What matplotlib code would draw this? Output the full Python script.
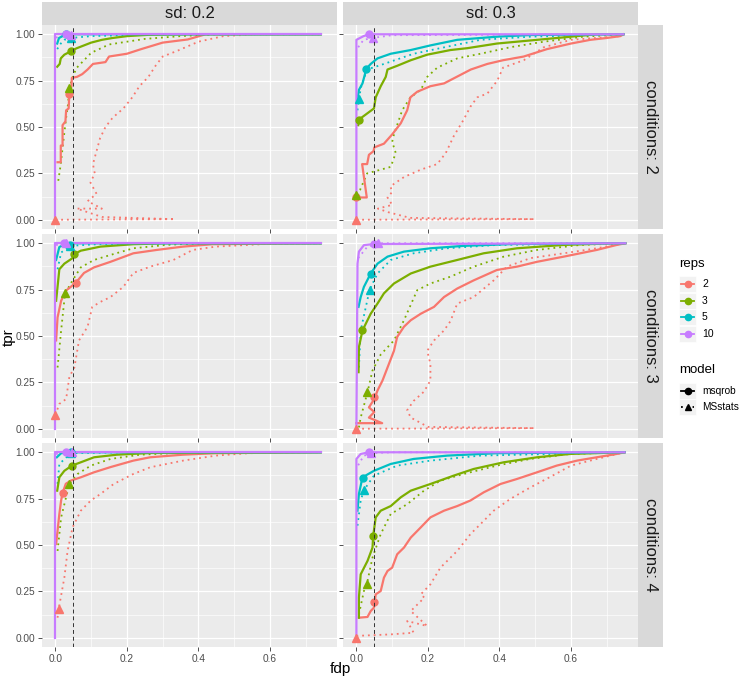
import matplotlib.pyplot as plt
from matplotlib.patches import Rectangle
from matplotlib.lines import Line2D

plt.rcParams['font.family'] = ['Liberation Sans', 'DejaVu Sans']

reps = ['2', '3', '5', '10']
rep_colors = ['#F8766D', '#7CAE00', '#00BFC4', '#C77CFF']
models = ['msqrob', 'MSstats']
sd_labels = ['sd: 0.2', 'sd: 0.3']
cond_labels = ['conditions: 2', 'conditions: 3', 'conditions: 4']
fdr_cut = 0.05

x_ticks = [0.0, 0.2, 0.4, 0.6]
x_tick_labels = ['0.0', '0.2', '0.4', '0.6']
y_ticks = [0.0, 0.25, 0.5, 0.75, 1.0]
y_tick_labels = ['0.00', '0.25', '0.50', '0.75', '1.00']

# ---- conditions 2, sd 0.2 : (fdp, tpr) ----
c2_s2_r2_mq = [(0.006, 0.31), (0.015, 0.31), (0.015, 0.40), (0.02, 0.40), (0.02, 0.51), (0.028, 0.53),
               (0.03, 0.59), (0.037, 0.60), (0.039, 0.68), (0.045, 0.72), (0.046, 0.765), (0.06, 0.77),
               (0.075, 0.785), (0.09, 0.81), (0.105, 0.84), (0.14, 0.85), (0.15, 0.88), (0.2, 0.895),
               (0.24, 0.92), (0.3, 0.955), (0.37, 0.972), (0.42, 1.0), (0.742, 1.0)]
c2_s2_r2_ms = [(0.0, 0.0), (0.334, 0.003), (0.13, 0.015), (0.06, 0.06), (0.13, 0.06), (0.09, 0.10),
               (0.115, 0.14), (0.098, 0.2), (0.11, 0.25), (0.105, 0.3), (0.115, 0.37), (0.125, 0.44),
               (0.14, 0.5), (0.16, 0.55), (0.19, 0.6), (0.215, 0.66), (0.235, 0.72), (0.26, 0.77),
               (0.28, 0.83), (0.3, 0.88), (0.34, 0.91), (0.4, 0.96), (0.47, 0.99), (0.56, 1.0), (0.742, 1.0)]
c2_s2_r3_mq = [(0.005, 0.825), (0.012, 0.84), (0.015, 0.87), (0.025, 0.89), (0.035, 0.9), (0.043, 0.91),
               (0.06, 0.925), (0.08, 0.94), (0.1, 0.955), (0.13, 0.97), (0.16, 0.98), (0.2, 0.99),
               (0.26, 0.997), (0.4, 1.0), (0.742, 1.0)]
c2_s2_r3_ms = [(0.008, 0.21), (0.015, 0.3), (0.022, 0.42), (0.03, 0.55), (0.035, 0.62), (0.039, 0.71),
               (0.05, 0.78), (0.06, 0.82), (0.075, 0.85), (0.1, 0.9), (0.15, 0.945), (0.2, 0.96),
               (0.25, 0.975), (0.35, 0.99), (0.45, 1.0), (0.742, 1.0)]
c2_s2_r5_mq = [(0.005, 0.95), (0.01, 0.98), (0.02, 0.99), (0.03, 1.0), (0.742, 1.0)]
c2_s2_r5_ms = [(0.005, 0.92), (0.015, 0.95), (0.025, 0.97), (0.043, 0.98), (0.1, 0.99), (0.2, 0.995),
               (0.3, 1.0), (0.742, 1.0)]
c2_s2_r10_mq = [(0.0, 0.0), (0.0, 1.0), (0.742, 1.0)]
c2_s2_r10_ms = [(0.002, 0.98), (0.01, 0.995), (0.03, 1.0), (0.742, 1.0)]
c2_s2_pts_mq = [(0.039, 0.68), (0.043, 0.91), (0.03, 1.0), (0.03, 1.0)]
c2_s2_pts_ms = [(0.0, 0.0), (0.039, 0.71), (0.043, 0.98), (0.043, 0.998)]

# ---- conditions 2, sd 0.3 ----
c2_s3_r2_mq = [(0.0, 0.12), (0.029, 0.12), (0.016, 0.3), (0.03, 0.3), (0.035, 0.35), (0.048, 0.37),
               (0.05, 0.39), (0.077, 0.41), (0.1, 0.46), (0.124, 0.52), (0.142, 0.59), (0.151, 0.66),
               (0.17, 0.69), (0.207, 0.72), (0.245, 0.735), (0.28, 0.77), (0.32, 0.81), (0.366, 0.84),
               (0.41, 0.86), (0.468, 0.88), (0.533, 0.92), (0.6, 0.95), (0.654, 0.97), (0.7, 0.98),
               (0.738, 0.99), (0.747, 1.0)]
c2_s3_r2_ms = [(0.0, 0.0), (0.498, 0.003), (0.15, 0.01), (0.09, 0.04), (0.06, 0.06), (0.1, 0.08),
               (0.087, 0.12), (0.1, 0.15), (0.095, 0.18), (0.133, 0.23), (0.18, 0.27), (0.226, 0.30),
               (0.25, 0.36), (0.272, 0.45), (0.30, 0.54), (0.319, 0.61), (0.338, 0.66), (0.366, 0.68),
               (0.394, 0.75), (0.41, 0.82), (0.468, 0.86), (0.524, 0.93), (0.6, 0.97), (0.738, 0.99),
               (0.747, 1.0)]
c2_s3_r3_mq = [(0.005, 0.51), (0.007, 0.54), (0.021, 0.56), (0.049, 0.6), (0.054, 0.66), (0.068, 0.72),
               (0.082, 0.77), (0.087, 0.81), (0.114, 0.83), (0.152, 0.86), (0.198, 0.89), (0.263, 0.915),
               (0.31, 0.925), (0.393, 0.95), (0.505, 0.97), (0.6, 0.987), (0.672, 1.0), (0.747, 1.0)]
c2_s3_r3_ms = [(0.0, 0.135), (0.01, 0.16), (0.03, 0.25), (0.068, 0.27), (0.096, 0.285), (0.11, 0.36),
               (0.1, 0.42), (0.105, 0.46), (0.128, 0.59), (0.151, 0.66), (0.18, 0.70), (0.198, 0.77),
               (0.226, 0.82), (0.282, 0.87), (0.347, 0.895), (0.43, 0.93), (0.524, 0.96), (0.635, 0.987),
               (0.747, 1.0)]
c2_s3_r5_mq = [(0.003, 0.645), (0.007, 0.70), (0.017, 0.735), (0.028, 0.815), (0.04, 0.84), (0.059, 0.87),
               (0.096, 0.895), (0.152, 0.915), (0.207, 0.94), (0.282, 0.97), (0.393, 0.987), (0.487, 0.996),
               (0.747, 1.0)]
c2_s3_r5_ms = [(0.003, 0.59), (0.012, 0.71), (0.03, 0.81), (0.077, 0.84), (0.16, 0.895), (0.254, 0.933),
               (0.347, 0.97), (0.487, 0.987), (0.747, 1.0)]
c2_s3_r10_mq = [(0.0, 0.0), (0.0, 0.97), (0.02, 0.99), (0.035, 1.0), (0.747, 1.0)]
c2_s3_r10_ms = [(0.005, 0.93), (0.02, 0.97), (0.045, 0.98), (0.1, 0.995), (0.747, 1.0)]
c2_s3_pts_mq = [(0.0, 0.12), (0.007, 0.54), (0.028, 0.815), (0.035, 1.0)]
c2_s3_pts_ms = [(0.0, 0.0), (0.0, 0.135), (0.006, 0.65), (0.045, 0.98)]

# ---- conditions 3, sd 0.2 ----
c3_s2_r2_mq = [(0.002, 0.476), (0.006, 0.6), (0.016, 0.69), (0.03, 0.745), (0.057, 0.787), (0.08, 0.84),
               (0.108, 0.87), (0.154, 0.90), (0.218, 0.946), (0.283, 0.964), (0.357, 0.982), (0.44, 0.995),
               (0.742, 1.0)]
c3_s2_r2_ms = [(0.0, 0.074), (0.011, 0.134), (0.03, 0.16), (0.039, 0.28), (0.053, 0.33), (0.066, 0.476),
               (0.09, 0.55), (0.103, 0.657), (0.126, 0.684), (0.154, 0.71), (0.19, 0.765), (0.218, 0.84),
               (0.265, 0.874), (0.33, 0.91), (0.384, 0.964), (0.449, 0.982), (0.587, 0.996), (0.742, 1.0)]
c3_s2_r3_mq = [(0.002, 0.69), (0.011, 0.86), (0.025, 0.89), (0.048, 0.92), (0.051, 0.94), (0.071, 0.96),
               (0.126, 0.982), (0.218, 0.995), (0.31, 1.0), (0.742, 1.0)]
c3_s2_r3_ms = [(0.006, 0.33), (0.016, 0.53), (0.027, 0.73), (0.048, 0.80), (0.071, 0.87), (0.108, 0.91),
               (0.154, 0.937), (0.218, 0.973), (0.31, 0.991), (0.4, 1.0), (0.742, 1.0)]
c3_s2_r5_mq = [(0.002, 0.91), (0.011, 0.98), (0.034, 1.0), (0.742, 1.0)]
c3_s2_r5_ms = [(0.006, 0.86), (0.016, 0.95), (0.041, 0.986), (0.126, 0.996), (0.742, 1.0)]
c3_s2_r10_mq = [(0.0, 0.0), (0.0, 1.0), (0.742, 1.0)]
c3_s2_r10_ms = [(0.002, 0.99), (0.02, 1.0), (0.742, 1.0)]
c3_s2_pts_mq = [(0.057, 0.787), (0.051, 0.94), (0.041, 0.99), (0.025, 1.0)]
c3_s2_pts_ms = [(0.0, 0.074), (0.027, 0.73), (0.041, 0.986), (0.03, 1.0)]

# ---- conditions 3, sd 0.3 ----
c3_s3_r2_mq = [(0.0, 0.03), (0.072, 0.03), (0.035, 0.06), (0.05, 0.09), (0.035, 0.115), (0.05, 0.16),
               (0.059, 0.206), (0.073, 0.26), (0.091, 0.35), (0.105, 0.42), (0.114, 0.495), (0.133, 0.55),
               (0.152, 0.585), (0.18, 0.62), (0.217, 0.657), (0.245, 0.71), (0.282, 0.756), (0.328, 0.80),
               (0.393, 0.856), (0.449, 0.874), (0.505, 0.90), (0.58, 0.928), (0.672, 0.964), (0.728, 0.991),
               (0.752, 1.0)]
c3_s3_r2_ms = [(0.0, 0.0), (0.498, 0.003), (0.2, 0.01), (0.152, 0.06), (0.142, 0.1), (0.16, 0.15),
               (0.189, 0.2), (0.207, 0.26), (0.207, 0.35), (0.198, 0.42), (0.217, 0.476), (0.245, 0.53),
               (0.263, 0.58), (0.282, 0.675), (0.328, 0.71), (0.384, 0.80), (0.421, 0.874), (0.487, 0.92),
               (0.58, 0.946), (0.672, 0.973), (0.738, 0.996), (0.752, 1.0)]
c3_s3_r3_mq = [(0.006, 0.305), (0.007, 0.44), (0.017, 0.53), (0.031, 0.585), (0.04, 0.62), (0.059, 0.675),
               (0.077, 0.73), (0.105, 0.783), (0.152, 0.837), (0.207, 0.874), (0.282, 0.91), (0.356, 0.946),
               (0.449, 0.973), (0.58, 0.991), (0.72, 1.0), (0.752, 1.0)]
c3_s3_r3_ms = [(0.007, 0.007), (0.012, 0.06), (0.031, 0.197), (0.045, 0.314), (0.068, 0.40), (0.105, 0.476),
               (0.133, 0.585), (0.17, 0.747), (0.207, 0.783), (0.263, 0.82), (0.328, 0.874), (0.412, 0.928),
               (0.505, 0.964), (0.626, 0.991), (0.752, 1.0)]
c3_s3_r5_mq = [(0.006, 0.657), (0.012, 0.71), (0.021, 0.765), (0.04, 0.837), (0.059, 0.89), (0.087, 0.928),
               (0.133, 0.955), (0.207, 0.973), (0.30, 0.986), (0.44, 0.996), (0.752, 1.0)]
c3_s3_r5_ms = [(0.007, 0.33), (0.012, 0.53), (0.037, 0.75), (0.059, 0.837), (0.096, 0.91), (0.16, 0.946),
               (0.254, 0.973), (0.393, 0.991), (0.752, 1.0)]
c3_s3_r10_mq = [(0.0, 0.0), (0.003, 0.89), (0.007, 0.955), (0.021, 0.99), (0.049, 0.996), (0.752, 1.0)]
c3_s3_r10_ms = [(0.005, 0.92), (0.03, 0.98), (0.061, 1.0), (0.752, 1.0)]
c3_s3_pts_mq = [(0.05, 0.17), (0.017, 0.53), (0.04, 0.837), (0.049, 0.996)]
c3_s3_pts_ms = [(0.0, 0.0), (0.031, 0.197), (0.037, 0.75), (0.061, 1.0)]

# ---- conditions 4, sd 0.2 ----
c4_s2_r2_mq = [(0.002, 0.505), (0.006, 0.577), (0.011, 0.667), (0.016, 0.74), (0.02, 0.78), (0.029, 0.83),
               (0.043, 0.847), (0.071, 0.865), (0.108, 0.892), (0.154, 0.92), (0.218, 0.955), (0.265, 0.973),
               (0.357, 0.987), (0.449, 0.995), (0.742, 1.0)]
c4_s2_r2_ms = [(0.006, 0.108), (0.009, 0.153), (0.025, 0.324), (0.034, 0.468), (0.048, 0.595), (0.071, 0.685),
               (0.099, 0.74), (0.126, 0.775), (0.163, 0.829), (0.218, 0.883), (0.265, 0.919), (0.357, 0.955),
               (0.449, 0.982), (0.54, 0.995), (0.742, 1.0)]
c4_s2_r3_mq = [(0.005, 0.793), (0.011, 0.865), (0.025, 0.9), (0.046, 0.928), (0.071, 0.946), (0.108, 0.973),
               (0.172, 0.987), (0.265, 0.996), (0.742, 1.0)]
c4_s2_r3_ms = [(0.006, 0.468), (0.016, 0.649), (0.039, 0.829), (0.062, 0.883), (0.099, 0.928), (0.154, 0.964),
               (0.237, 0.987), (0.357, 0.998), (0.742, 1.0)]
c4_s2_r5_mq = [(0.004, 0.973), (0.016, 0.995), (0.043, 1.0), (0.742, 1.0)]
c4_s2_r5_ms = [(0.006, 0.83), (0.011, 0.937), (0.043, 0.995), (0.2, 1.0), (0.742, 1.0)]
c4_s2_r10_mq = [(0.0, 0.0), (0.0, 1.0), (0.742, 1.0)]
c4_s2_r10_ms = [(0.002, 0.99), (0.02, 1.0), (0.742, 1.0)]
c4_s2_pts_mq = [(0.02, 0.78), (0.046, 0.928), (0.043, 1.0), (0.03, 1.0)]
c4_s2_pts_ms = [(0.009, 0.153), (0.039, 0.829), (0.043, 0.995), (0.045, 1.0)]

# ---- conditions 4, sd 0.3 ----
c4_s3_r2_mq = [(0.007, 0.108), (0.031, 0.112), (0.04, 0.144), (0.049, 0.162), (0.054, 0.234), (0.068, 0.252),
               (0.077, 0.324), (0.087, 0.36), (0.1, 0.378), (0.114, 0.45), (0.133, 0.486), (0.152, 0.54),
               (0.18, 0.595), (0.207, 0.649), (0.245, 0.685), (0.282, 0.71), (0.319, 0.74), (0.356, 0.784),
               (0.403, 0.829), (0.449, 0.856), (0.505, 0.892), (0.56, 0.928), (0.617, 0.955), (0.672, 0.973),
               (0.728, 0.991), (0.75, 1.0)]
c4_s3_r2_ms = [(0.0, 0.01), (0.096, 0.018), (0.16, 0.027), (0.142, 0.09), (0.198, 0.063), (0.152, 0.144),
               (0.19, 0.216), (0.18, 0.234), (0.207, 0.288), (0.235, 0.378), (0.282, 0.468), (0.319, 0.559),
               (0.356, 0.63), (0.384, 0.685), (0.43, 0.748), (0.486, 0.81), (0.54, 0.865), (0.6, 0.928),
               (0.672, 0.964), (0.75, 1.0)]
c4_s3_r3_mq = [(0.007, 0.108), (0.007, 0.216), (0.012, 0.342), (0.031, 0.414), (0.045, 0.486), (0.047, 0.55),
               (0.054, 0.649), (0.068, 0.685), (0.096, 0.71), (0.124, 0.757), (0.152, 0.793), (0.207, 0.829),
               (0.272, 0.874), (0.328, 0.91), (0.412, 0.946), (0.505, 0.973), (0.598, 0.991), (0.75, 1.0)]
c4_s3_r3_ms = [(0.007, 0.126), (0.021, 0.252), (0.029, 0.288), (0.045, 0.432), (0.068, 0.559), (0.096, 0.667),
               (0.142, 0.72), (0.189, 0.793), (0.235, 0.847), (0.3, 0.883), (0.393, 0.928), (0.486, 0.964),
               (0.598, 0.991), (0.75, 1.0)]
c4_s3_r5_mq = [(0.003, 0.685), (0.007, 0.775), (0.017, 0.865), (0.049, 0.9), (0.096, 0.937), (0.16, 0.964),
               (0.254, 0.982), (0.393, 0.995), (0.75, 1.0)]
c4_s3_r5_ms = [(0.003, 0.604), (0.012, 0.74), (0.021, 0.796), (0.049, 0.874), (0.114, 0.928), (0.207, 0.955),
               (0.347, 0.982), (0.75, 1.0)]
c4_s3_r10_mq = [(0.0, 0.0), (0.0, 0.964), (0.012, 0.991), (0.035, 1.0), (0.75, 1.0)]
c4_s3_r10_ms = [(0.005, 0.93), (0.02, 0.98), (0.04, 0.995), (0.1, 1.0), (0.75, 1.0)]
c4_s3_pts_mq = [(0.049, 0.19), (0.047, 0.55), (0.019, 0.86), (0.035, 1.0)]
c4_s3_pts_ms = [(0.0, 0.0), (0.029, 0.288), (0.021, 0.796), (0.04, 0.998)]

panels = {
    (0, 0): ([c2_s2_r2_mq, c2_s2_r3_mq, c2_s2_r5_mq, c2_s2_r10_mq],
             [c2_s2_r2_ms, c2_s2_r3_ms, c2_s2_r5_ms, c2_s2_r10_ms], c2_s2_pts_mq, c2_s2_pts_ms),
    (0, 1): ([c2_s3_r2_mq, c2_s3_r3_mq, c2_s3_r5_mq, c2_s3_r10_mq],
             [c2_s3_r2_ms, c2_s3_r3_ms, c2_s3_r5_ms, c2_s3_r10_ms], c2_s3_pts_mq, c2_s3_pts_ms),
    (1, 0): ([c3_s2_r2_mq, c3_s2_r3_mq, c3_s2_r5_mq, c3_s2_r10_mq],
             [c3_s2_r2_ms, c3_s2_r3_ms, c3_s2_r5_ms, c3_s2_r10_ms], c3_s2_pts_mq, c3_s2_pts_ms),
    (1, 1): ([c3_s3_r2_mq, c3_s3_r3_mq, c3_s3_r5_mq, c3_s3_r10_mq],
             [c3_s3_r2_ms, c3_s3_r3_ms, c3_s3_r5_ms, c3_s3_r10_ms], c3_s3_pts_mq, c3_s3_pts_ms),
    (2, 0): ([c4_s2_r2_mq, c4_s2_r3_mq, c4_s2_r5_mq, c4_s2_r10_mq],
             [c4_s2_r2_ms, c4_s2_r3_ms, c4_s2_r5_ms, c4_s2_r10_ms], c4_s2_pts_mq, c4_s2_pts_ms),
    (2, 1): ([c4_s3_r2_mq, c4_s3_r3_mq, c4_s3_r5_mq, c4_s3_r10_mq],
             [c4_s3_r2_ms, c4_s3_r3_ms, c4_s3_r5_ms, c4_s3_r10_ms], c4_s3_pts_mq, c4_s3_pts_ms),
}

W, H = 740, 678
fig = plt.figure(figsize=(W / 100, H / 100), dpi=100)
fig.patch.set_facecolor('white')


def box(x0, y0, x1, y1):
    # pixel box (top-left origin) -> figure fraction rect
    return [x0 / W, 1 - y1 / H, (x1 - x0) / W, (y1 - y0) / H]


col_x = [(42, 337), (343, 638)]
row_y = [(25, 229), (234, 438), (443, 647)]
dotted = (0, (1, 2.2))

for (r, c), (mq_lines, ms_lines, pts_mq, pts_ms) in panels.items():
    ax = fig.add_axes(box(col_x[c][0], row_y[r][0], col_x[c][1], row_y[r][1]))
    ax.set_facecolor('#EBEBEB')
    ax.set_xlim(-0.0375, 0.7875)
    ax.set_ylim(-0.05, 1.05)
    for v in [0.1, 0.3, 0.5, 0.7]:
        ax.axvline(v, color='white', lw=0.45, zorder=0)
    for v in [0.125, 0.375, 0.625, 0.875]:
        ax.axhline(v, color='white', lw=0.45, zorder=0)
    for v in x_ticks:
        ax.axvline(v, color='white', lw=0.9, zorder=0)
    for v in y_ticks:
        ax.axhline(v, color='white', lw=0.9, zorder=0)
    for s in ax.spines.values():
        s.set_visible(False)

    for i in range(4):
        mx, my = zip(*ms_lines[i])
        ax.plot(mx, my, color=rep_colors[i], lw=1.3, ls=dotted, zorder=2)
        qx, qy = zip(*mq_lines[i])
        ax.plot(qx, qy, color=rep_colors[i], lw=1.6, zorder=3)
    for i in range(4):
        ax.plot(pts_mq[i][0], pts_mq[i][1], 'o', color=rep_colors[i], ms=5, zorder=4)
        ax.plot(pts_ms[i][0], pts_ms[i][1], '^', color=rep_colors[i], ms=5.5, zorder=4)

    ax.axvline(fdr_cut, color='#333333', lw=0.7, ls=(0, (4, 3)), zorder=5)

    ax.set_xticks(x_ticks)
    ax.set_yticks(y_ticks)
    ax.tick_params(length=3, width=0.6, color='#333333', labelcolor='#4D4D4D', labelsize=7.3, pad=2)
    if c == 0:
        ax.set_yticklabels(y_tick_labels)
    else:
        ax.set_yticklabels([])
    if r == 2:
        ax.set_xticklabels(x_tick_labels)
    else:
        ax.set_xticklabels([])

# top strips
for c in range(2):
    sax = fig.add_axes(box(col_x[c][0], 2, col_x[c][1], 25))
    sax.set_facecolor('#D9D9D9')
    sax.set_xticks([])
    sax.set_yticks([])
    for s in sax.spines.values():
        s.set_visible(False)
    sax.text(0.5, 0.5, sd_labels[c], ha='center', va='center', fontsize=12, color='#1A1A1A',
             transform=sax.transAxes)

# right strips
for r in range(3):
    sax = fig.add_axes(box(638, row_y[r][0], 663, row_y[r][1]))
    sax.set_facecolor('#D9D9D9')
    sax.set_xticks([])
    sax.set_yticks([])
    for s in sax.spines.values():
        s.set_visible(False)
    sax.text(0.5, 0.5, cond_labels[r], ha='center', va='center', fontsize=12, color='#1A1A1A',
             rotation=270, transform=sax.transAxes)

fig.text(9 / W, 1 - 337 / H, 'tpr', rotation=90, ha='center', va='center', fontsize=11, color='black')
fig.text(340 / W, 1 - 669 / H, 'fdp', ha='center', va='center', fontsize=11, color='black')

# legend drawn in pixel space
lax = fig.add_axes([0, 0, 1, 1], facecolor='none')
lax.set_xlim(0, W)
lax.set_ylim(H, 0)
lax.axis('off')

lax.text(679, 264, 'reps', ha='left', va='center', fontsize=9.5, color='black')
for i, lab in enumerate(reps):
    yc = 284 + i * 16.7
    lax.add_patch(Rectangle((679, yc - 8), 17, 16, facecolor='#F2F2F2', edgecolor='white', lw=0.5))
    lax.add_line(Line2D([681, 694], [yc, yc], color=rep_colors[i], lw=1.3))
    lax.plot(687.5, yc, 'o', color=rep_colors[i], ms=4.5)
    lax.text(702, yc, lab, ha='left', va='center', fontsize=7.5, color='black')

lax.text(679, 370, 'model', ha='left', va='center', fontsize=9.5, color='black')
model_marks = ['o', '^']
model_ls = ['-', dotted]
for i, lab in enumerate(models):
    yc = 391 + i * 16
    lax.add_patch(Rectangle((679, yc - 8), 17, 16, facecolor='#F2F2F2', edgecolor='white', lw=0.5))
    lax.add_line(Line2D([681, 694], [yc, yc], color='black', lw=1.3, ls=model_ls[i]))
    lax.plot(687.5, yc, model_marks[i], color='black', ms=4.5)
    lax.text(702, yc, lab, ha='left', va='center', fontsize=7.3, color='black')

fig.savefig('out.png', dpi=100)
